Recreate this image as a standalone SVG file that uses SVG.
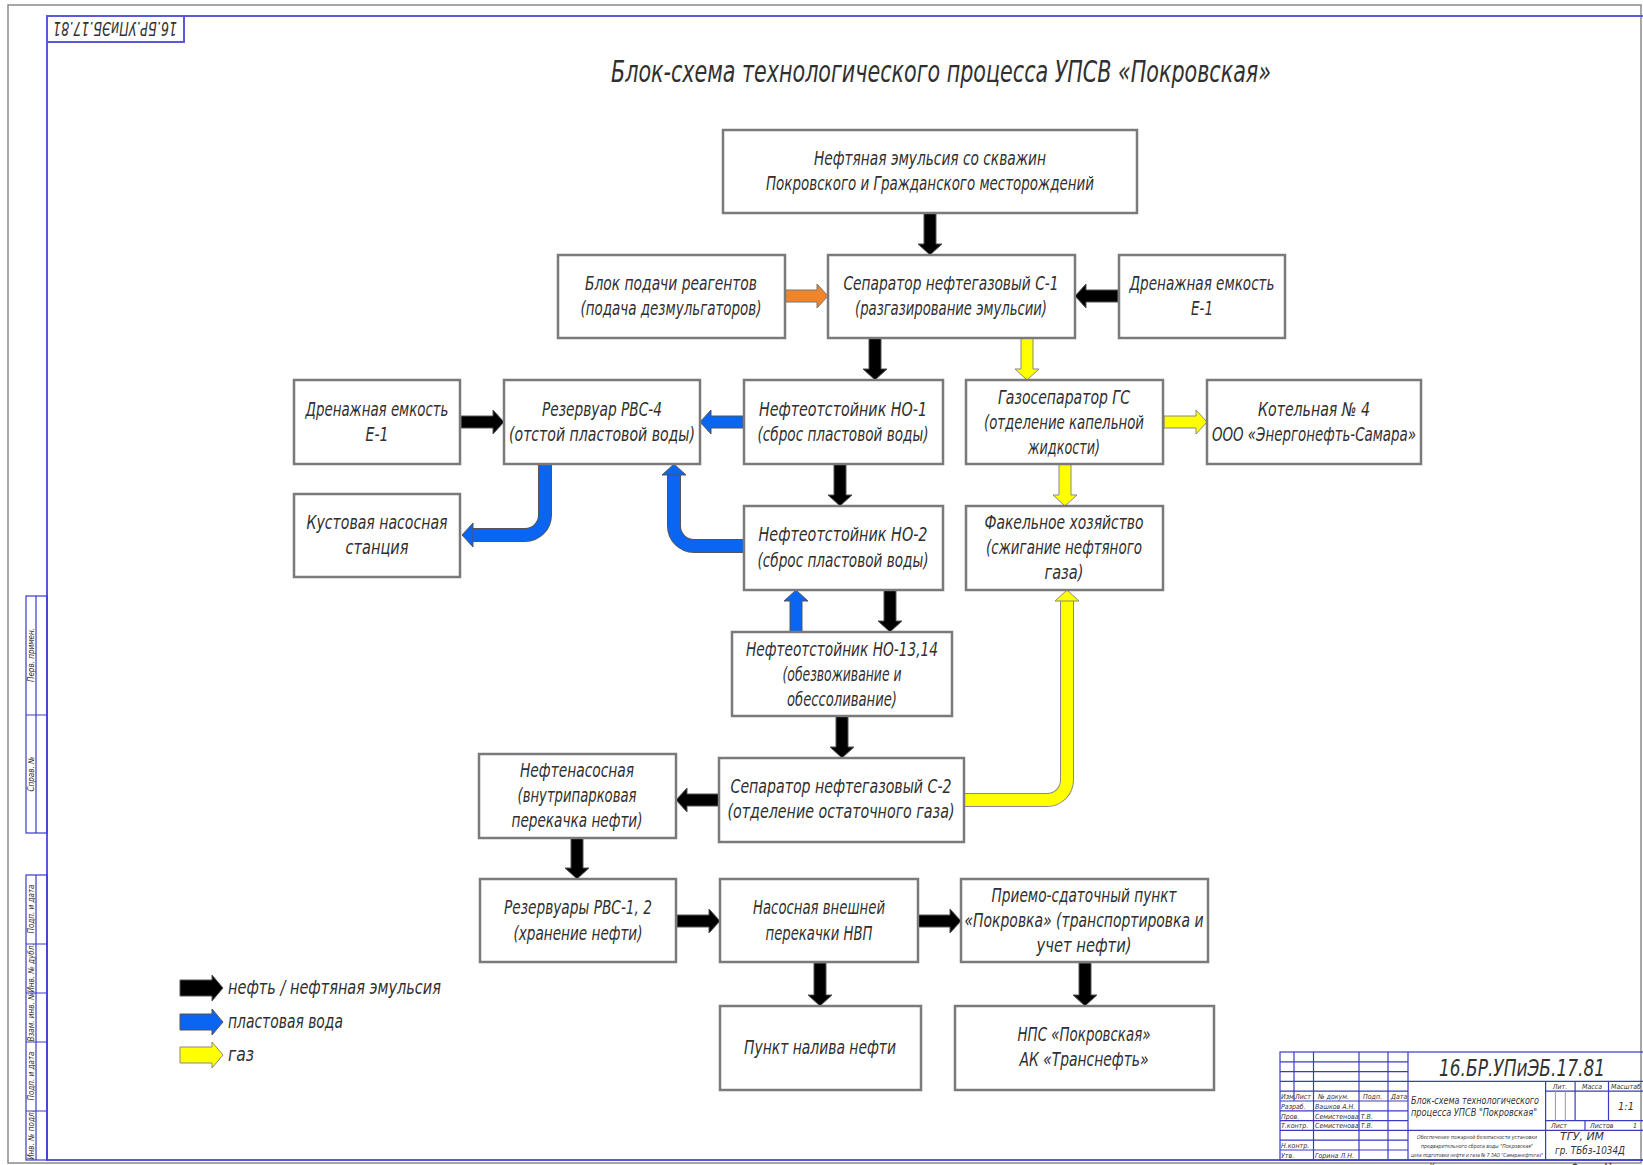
<svg xmlns="http://www.w3.org/2000/svg" width="1643" height="1165" viewBox="0 0 1643 1165">
<style>
.bg{fill:#fff}
.box{fill:#fff;stroke:#7a7a7a;stroke-width:2.5}
.n{font-family:"Liberation Sans Narrow","DejaVu Sans Condensed","Liberation Sans",sans-serif;font-style:italic;font-size:19px;fill:#303030;text-anchor:middle}
.title{font-family:"Liberation Sans Narrow","DejaVu Sans Condensed","Liberation Sans",sans-serif;font-style:italic;font-size:30px;fill:#303030;text-anchor:middle}
.lg{font-family:"Liberation Sans Narrow","DejaVu Sans Condensed","Liberation Sans",sans-serif;font-style:italic;font-size:19px;fill:#303030}
.s{font-family:"Liberation Sans Narrow","DejaVu Sans Condensed","Liberation Sans",sans-serif;font-style:italic;fill:#333}
.bl{stroke:#5a5ad8;stroke-width:2;fill:none}
.tl{stroke:#3a3ac8;stroke-width:1.2;fill:none}
.tg{stroke:#999;stroke-width:1;fill:none}
.k{fill:#000;stroke:#555;stroke-width:1}
.w{fill:#0a66f2;stroke:#555;stroke-width:1}
.y{fill:#ffff00;stroke:#888;stroke-width:1}
.o{fill:#f0842a;stroke:#777;stroke-width:1}
</style>
<defs>
<path id="ar" d="M-43,-6 H-11 V-12 L0,0 L-11,12 V6 H-43 Z"/>
<path id="arL" d="M0,-8 H32 V-13 L43,0 L32,13 V8 H0 Z"/>
</defs>
<rect class="bg" x="0" y="0" width="1643" height="1165"/>

<g id="frame">
<rect x="8" y="5" width="1633" height="1158" fill="none" stroke="#8a8a8a" stroke-width="1.5"/>
<path class="bl" d="M1644,16 H47 V1160 H1644"/>
<rect class="bl" x="47" y="16" width="137" height="26"/>
<text class="s" font-size="20" text-anchor="middle" transform="translate(115,22) rotate(180)" textLength="124" lengthAdjust="spacingAndGlyphs">16.БР.УПиЭБ.17.81</text>
</g>

<g id="side-stamp">
<rect class="tl" x="26" y="596" width="21" height="237"/>
<path class="tl" d="M36,596 V833 M26,715 H47"/>
<rect class="tl" x="26" y="875" width="21" height="285"/>
<path class="tl" d="M36,875 V1160 M26,944 H47 M26,993 H47 M26,1042 H47 M26,1111 H47"/>
<g class="s" font-size="8" text-anchor="middle">
<text transform="translate(34,655) rotate(-90)">Перв. примен.</text>
<text transform="translate(34,774) rotate(-90)">Справ. №</text>
<text transform="translate(34,909) rotate(-90)">Подп. и дата</text>
<text transform="translate(34,968) rotate(-90)">Инв. № дубл.</text>
<text transform="translate(34,1017) rotate(-90)">Взам. инв. №</text>
<text transform="translate(34,1076) rotate(-90)">Подп. и дата</text>
<text transform="translate(34,1135) rotate(-90)">Инв. № подл.</text>
</g>
</g>

<text class="title" x="941" y="82" textLength="660" lengthAdjust="spacingAndGlyphs">Блок-схема технологического процесса УПСВ «Покровская»</text>

<g id="connectors">
<use href="#ar" class="k" transform="translate(930,255) rotate(90)"/>
<use href="#ar" class="o" transform="translate(828,296)"/>
<use href="#ar" class="k" transform="translate(1075,296) rotate(180)"/>
<use href="#ar" class="k" transform="translate(875,380) rotate(90)"/>
<use href="#ar" class="y" transform="translate(1027,380) rotate(90)"/>
<use href="#ar" class="k" transform="translate(504,422)"/>
<use href="#ar" class="w" transform="translate(700,422) rotate(180)"/>
<use href="#ar" class="y" transform="translate(1207,422)"/>
<use href="#ar" class="k" transform="translate(840,506) rotate(90)"/>
<use href="#ar" class="y" transform="translate(1065,506) rotate(90)"/>
<use href="#ar" class="w" transform="translate(796,590) rotate(-90)"/>
<use href="#ar" class="k" transform="translate(890,632) rotate(90)"/>
<use href="#ar" class="k" transform="translate(842,758) rotate(90)"/>
<use href="#ar" class="k" transform="translate(676,800) rotate(180)"/>
<use href="#ar" class="k" transform="translate(577,879) rotate(90)"/>
<use href="#ar" class="k" transform="translate(720,921)"/>
<use href="#ar" class="k" transform="translate(961,921)"/>
<use href="#ar" class="k" transform="translate(820,1006) rotate(90)"/>
<use href="#ar" class="k" transform="translate(1085,1006) rotate(90)"/>
<path d="M545,464 V515 A20,20 0 0 1 525,535 H472" fill="none" stroke="#555" stroke-width="14"/>
<path d="M545,464 V515 A20,20 0 0 1 525,535 H472" fill="none" stroke="#0a66f2" stroke-width="12"/>
<path class="w" d="M473,523 L462,535 L473,547 Z"/>
<path d="M744,546 H694 A20,20 0 0 1 674,526 V474" fill="none" stroke="#555" stroke-width="14"/>
<path d="M744,546 H694 A20,20 0 0 1 674,526 V474" fill="none" stroke="#0a66f2" stroke-width="12"/>
<path class="w" d="M662,475 L674,464 L686,475 Z"/>
<path d="M964,800 H1047 A20,20 0 0 0 1067,780 V600" fill="none" stroke="#888" stroke-width="14"/>
<path d="M964,800 H1047 A20,20 0 0 0 1067,780 V600" fill="none" stroke="#ffff00" stroke-width="12"/>
<path class="y" d="M1055,601 L1067,590 L1079,601 Z"/>
</g>

<g id="n_source"><rect class="box" x="723" y="130" width="414" height="83"/>
<text class="n" x="930" y="165" textLength="232" lengthAdjust="spacingAndGlyphs">Нефтяная эмульсия со скважин</text>
<text class="n" x="930" y="190" textLength="328" lengthAdjust="spacingAndGlyphs">Покровского и Гражданского месторождений</text></g>

<g id="n_reagent"><rect class="box" x="558" y="255" width="227" height="83"/>
<text class="n" x="671" y="290" textLength="172" lengthAdjust="spacingAndGlyphs">Блок подачи реагентов</text>
<text class="n" x="671" y="315" textLength="181" lengthAdjust="spacingAndGlyphs">(подача дезмульгаторов)</text></g>

<g id="n_c1"><rect class="box" x="828" y="255" width="247" height="83"/>
<text class="n" x="951" y="290" textLength="215" lengthAdjust="spacingAndGlyphs">Сепаратор нефтегазовый С-1</text>
<text class="n" x="951" y="315" textLength="192" lengthAdjust="spacingAndGlyphs">(разгазирование эмульсии)</text></g>

<g id="n_drain1"><rect class="box" x="1119" y="255" width="166" height="83"/>
<text class="n" x="1202" y="290" textLength="145" lengthAdjust="spacingAndGlyphs">Дренажная емкость</text>
<text class="n" x="1202" y="315" textLength="22" lengthAdjust="spacingAndGlyphs">Е-1</text></g>

<g id="n_drain2"><rect class="box" x="294" y="380" width="166" height="84"/>
<text class="n" x="377" y="416" textLength="143" lengthAdjust="spacingAndGlyphs">Дренажная емкость</text>
<text class="n" x="377" y="441" textLength="23" lengthAdjust="spacingAndGlyphs">Е-1</text></g>

<g id="n_rvs4"><rect class="box" x="504" y="380" width="196" height="84"/>
<text class="n" x="602" y="416" textLength="120" lengthAdjust="spacingAndGlyphs">Резервуар РВС-4</text>
<text class="n" x="602" y="441" textLength="186" lengthAdjust="spacingAndGlyphs">(отстой пластовой воды)</text></g>

<g id="n_no1"><rect class="box" x="744" y="380" width="199" height="84"/>
<text class="n" x="843" y="416" textLength="168" lengthAdjust="spacingAndGlyphs">Нефтеотстойник НО-1</text>
<text class="n" x="843" y="441" textLength="171" lengthAdjust="spacingAndGlyphs">(сброс пластовой воды)</text></g>

<g id="n_gs"><rect class="box" x="966" y="380" width="197" height="84"/>
<text class="n" x="1064" y="404" textLength="132" lengthAdjust="spacingAndGlyphs">Газосепаратор ГС</text>
<text class="n" x="1064" y="429" textLength="160" lengthAdjust="spacingAndGlyphs">(отделение капельной</text>
<text class="n" x="1064" y="454" textLength="72" lengthAdjust="spacingAndGlyphs">жидкости)</text></g>

<g id="n_boiler"><rect class="box" x="1207" y="380" width="214" height="84"/>
<text class="n" x="1314" y="416" textLength="112" lengthAdjust="spacingAndGlyphs">Котельная № 4</text>
<text class="n" x="1314" y="441" textLength="204" lengthAdjust="spacingAndGlyphs">ООО «Энергонефть-Самара»</text></g>

<g id="n_kns"><rect class="box" x="294" y="494" width="166" height="83"/>
<text class="n" x="377" y="529" textLength="141" lengthAdjust="spacingAndGlyphs">Кустовая насосная</text>
<text class="n" x="377" y="554" textLength="63" lengthAdjust="spacingAndGlyphs">станция</text></g>

<g id="n_no2"><rect class="box" x="744" y="506" width="199" height="84"/>
<text class="n" x="843" y="541" textLength="169" lengthAdjust="spacingAndGlyphs">Нефтеотстойник НО-2</text>
<text class="n" x="843" y="567" textLength="171" lengthAdjust="spacingAndGlyphs">(сброс пластовой воды)</text></g>

<g id="n_flare"><rect class="box" x="966" y="506" width="197" height="84"/>
<text class="n" x="1064" y="529" textLength="159" lengthAdjust="spacingAndGlyphs">Факельное хозяйство</text>
<text class="n" x="1064" y="554" textLength="156" lengthAdjust="spacingAndGlyphs">(сжигание нефтяного</text>
<text class="n" x="1064" y="579" textLength="39" lengthAdjust="spacingAndGlyphs">газа)</text></g>

<g id="n_no1314"><rect class="box" x="732" y="632" width="220" height="84"/>
<text class="n" x="842" y="656" textLength="192" lengthAdjust="spacingAndGlyphs">Нефтеотстойник НО-13,14</text>
<text class="n" x="842" y="681" textLength="119" lengthAdjust="spacingAndGlyphs">(обезвоживание и</text>
<text class="n" x="842" y="706" textLength="110" lengthAdjust="spacingAndGlyphs">обессоливание)</text></g>

<g id="n_pump_in"><rect class="box" x="479" y="754" width="197" height="84"/>
<text class="n" x="577" y="777" textLength="114" lengthAdjust="spacingAndGlyphs">Нефтенасосная</text>
<text class="n" x="577" y="802" textLength="119" lengthAdjust="spacingAndGlyphs">(внутрипарковая</text>
<text class="n" x="577" y="827" textLength="131" lengthAdjust="spacingAndGlyphs">перекачка нефти)</text></g>

<g id="n_c2"><rect class="box" x="719" y="758" width="245" height="84"/>
<text class="n" x="841" y="793" textLength="221" lengthAdjust="spacingAndGlyphs">Сепаратор нефтегазовый С-2</text>
<text class="n" x="841" y="818" textLength="227" lengthAdjust="spacingAndGlyphs">(отделение остаточного газа)</text></g>

<g id="n_rvs12"><rect class="box" x="480" y="879" width="196" height="83"/>
<text class="n" x="578" y="914" textLength="148" lengthAdjust="spacingAndGlyphs">Резервуары РВС-1, 2</text>
<text class="n" x="578" y="940" textLength="129" lengthAdjust="spacingAndGlyphs">(хранение нефти)</text></g>

<g id="n_nvp"><rect class="box" x="720" y="879" width="198" height="83"/>
<text class="n" x="819" y="914" textLength="132" lengthAdjust="spacingAndGlyphs">Насосная внешней</text>
<text class="n" x="819" y="940" textLength="107" lengthAdjust="spacingAndGlyphs">перекачки НВП</text></g>

<g id="n_psp"><rect class="box" x="961" y="879" width="247" height="83"/>
<text class="n" x="1084" y="902" textLength="185" lengthAdjust="spacingAndGlyphs">Приемо-сдаточный пункт</text>
<text class="n" x="1084" y="927" textLength="239" lengthAdjust="spacingAndGlyphs">«Покровка» (транспортировка и</text>
<text class="n" x="1084" y="952" textLength="95" lengthAdjust="spacingAndGlyphs">учет нефти)</text></g>

<g id="n_fill"><rect class="box" x="720" y="1006" width="201" height="84"/>
<text class="n" x="820" y="1054" textLength="152" lengthAdjust="spacingAndGlyphs">Пункт налива нефти</text></g>

<g id="n_nps"><rect class="box" x="955" y="1006" width="259" height="84"/>
<text class="n" x="1084" y="1041" textLength="133" lengthAdjust="spacingAndGlyphs">НПС «Покровская»</text>
<text class="n" x="1084" y="1066" textLength="129" lengthAdjust="spacingAndGlyphs">АК «Транснефть»</text></g>

<g id="legend">
<use href="#arL" class="k" transform="translate(180,988)"/>
<use href="#arL" class="w" transform="translate(180,1022)"/>
<use href="#arL" class="y" transform="translate(180,1055)"/>
<text class="lg" x="228" y="994" textLength="213" lengthAdjust="spacingAndGlyphs">нефть / нефтяная эмульсия</text>
<text class="lg" x="228" y="1028" textLength="115" lengthAdjust="spacingAndGlyphs">пластовая вода</text>
<text class="lg" x="228" y="1061" textLength="26" lengthAdjust="spacingAndGlyphs">газ</text>
</g>

<g id="title-block">
<rect class="tl" x="1280" y="1052" width="364" height="108" stroke-width="2"/>
<path class="tl" d="M1280,1061.8 H1408 M1280,1071.6 H1408 M1280,1081.4 H1408 M1280,1091.2 H1408 M1280,1101 H1408 M1280,1110.8 H1408 M1280,1120.6 H1408 M1280,1130.4 H1408 M1280,1140.2 H1408 M1280,1150 H1408"/>
<path class="tl" d="M1294,1052 V1101 M1313.5,1052 V1160 M1359,1052 V1160 M1388,1052 V1160 M1408,1052 V1160"/>
<path class="tl" d="M1408,1081.4 H1644 M1408,1130.4 H1644 M1545.6,1081.4 V1160 M1545.6,1091.2 H1644 M1545.6,1120.6 H1644 M1575.1,1081.4 V1120.6 M1608.5,1081.4 V1120.6 M1585,1120.6 V1130.4"/>
<path class="tg" d="M1555.4,1091.2 V1120.6 M1565.3,1091.2 V1120.6"/>
<text class="s" x="1522" y="1076" font-size="23" text-anchor="middle" textLength="166" lengthAdjust="spacingAndGlyphs">16.БР.УПиЭБ.17.81</text>
<g font-size="7">
<text class="s" x="1281" y="1099">Изм.</text>
<text class="s" x="1295" y="1099">Лист</text>
<text class="s" x="1318" y="1099">№ докум.</text>
<text class="s" x="1363" y="1099">Подп.</text>
<text class="s" x="1391" y="1099">Дата</text>
<text class="s" x="1281" y="1109">Разраб.</text>
<text class="s" x="1315" y="1109">Вашков А.Н.</text>
<text class="s" x="1281" y="1119">Пров.</text>
<text class="s" x="1315" y="1119">Семистенова Т.В.</text>
<text class="s" x="1281" y="1128">Т.контр.</text>
<text class="s" x="1315" y="1128">Семистенова Т.В.</text>
<text class="s" x="1281" y="1148">Н.контр.</text>
<text class="s" x="1281" y="1158">Утв.</text>
<text class="s" x="1315" y="1158">Горина Л.Н.</text>
<text class="s" x="1560" y="1089" text-anchor="middle">Лит.</text>
<text class="s" x="1592" y="1089" text-anchor="middle">Масса</text>
<text class="s" x="1626" y="1089" text-anchor="middle">Масштаб</text>
<text class="s" x="1551" y="1128">Лист</text>
<text class="s" x="1590" y="1128">Листов</text>
<text class="s" x="1633" y="1128">1</text>
</g>
<text class="s" x="1626" y="1110" font-size="11" text-anchor="middle">1:1</text>
<text class="s" x="1411" y="1104" font-size="11" textLength="128" lengthAdjust="spacingAndGlyphs">Блок-схема технологического</text>
<text class="s" x="1411" y="1116" font-size="11" textLength="126" lengthAdjust="spacingAndGlyphs">процесса УПСВ "Покровская"</text>
<g font-size="5.5" text-anchor="middle">
<text class="s" x="1477" y="1139" textLength="120" lengthAdjust="spacingAndGlyphs">Обеспечение пожарной безопасности установки</text>
<text class="s" x="1477" y="1148" textLength="112" lengthAdjust="spacingAndGlyphs">предварительного сброса воды "Покровская"</text>
<text class="s" x="1477" y="1157" textLength="132" lengthAdjust="spacingAndGlyphs">цеха подготовки нефти и газа № 7 ЗАО "Самаранефтегаз"</text>
</g>
<text class="s" x="1582" y="1140" font-size="11" text-anchor="middle" textLength="44" lengthAdjust="spacingAndGlyphs">ТГУ, ИМ</text>
<text class="s" x="1590" y="1154" font-size="11" text-anchor="middle" textLength="70" lengthAdjust="spacingAndGlyphs">гр. ТБбз-1034Д</text>
<text class="s" x="1450" y="1170" font-size="8" text-anchor="middle">Копировал</text>
<text class="s" x="1592" y="1170" font-size="8" text-anchor="middle">Формат А1</text>
</g>
</svg>
